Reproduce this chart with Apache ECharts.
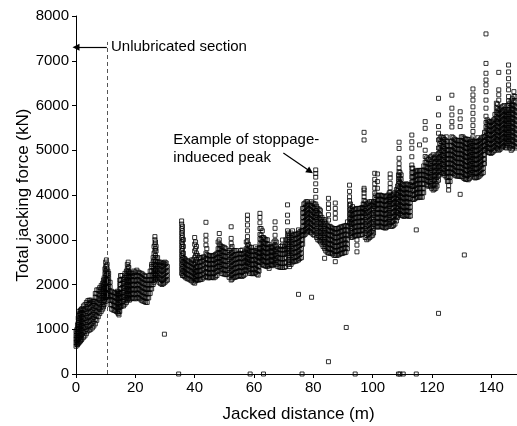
<!DOCTYPE html>
<html><head><meta charset="utf-8">
<script src="https://cdn.jsdelivr.net/npm/echarts@6/dist/echarts.min.js"></script>
<style>html,body{margin:0;padding:0;background:#fff}#c{width:517px;height:426px}</style>
</head><body><div id="c"></div><script>
// Each column: [distance (m), force values (kN) read at that distance...]
const segA = [
[0,620,700,780,860,950],[0.5,650,740,830,920,1010,1100],[1,700,800,900,1000,1100,1200,1300,1400],
[1.5,740,820,920,1020,1120,1220,1330,1420],[2,780,880,980,1080,1180,1280,1380,1460],
[3,850,950,1050,1150,1250,1350,1450,1550],[4,960,1060,1160,1260,1360,1460,1560,1640],
[5,1000,1100,1200,1300,1400,1500,1600,1650],[6,1070,1170,1270,1370,1470,1570,1620],
[7,1200,1300,1400,1500,1600,1700,1800,1880],[8,1350,1450,1550,1650,1750,1850,1930],
[9,1450,1550,1650,1750,1850,1950,2030],[9.5,1550,1650,1750,1850,1950,2050,2150],
[10,1700,1800,1900,2000,2100,2200,2300,2400,2500],[10.5,1750,1850,1950,2050,2150,2250,2350,2450],
[11,1650,1750,1850,1950,2050,2150,2250],[12,1450,1550,1650,1750,1850],[13,1420,1520,1620,1720,1820],
[14,1380,1480,1580,1680,1780,1850],[14.5,1320,1400,1500,1600,1700,1800],
[15,1500,1600,1700,1800,1900,2000,2100,2200],[16,1520,1620,1720,1820,1920,2020,2120],
[17,1600,1700,1800,1900,2000,2100,2200,2300],[17.6,1700,1800,1900,2000,2100,2200,2300,2400,2500],
[18,1650,1750,1850,1950,2050,2150,2250],[19,1700,1800,1900,2000,2100,2200,2250],
[20,1680,1780,1880,1980,2080,2180,2280],[21,1700,1800,1900,2000,2100,2200,2280],
[22,1650,1750,1850,1950,2050,2150,2250],[23,1620,1720,1820,1920,2020,2120,2200],
[24,1600,1700,1800,1900,2000,2100],[25,1800,1900,2000,2100,2200,2300],
[26,2000,2100,2200,2300,2400,2500,2600],[26.6,2100,2200,2300,2450,2600,2750,2900,3000,3070],
[27,2150,2250,2350,2450,2600,2750,2850],[28,2050,2150,2250,2350,2450,2500],
[29,2000,2100,2200,2300,2400,2480],[30,2050,2150,2250,2350,2450,2500],[30.8,2100,2200,2300,2400]
];
const segA2 = [
[0.25,660,740,820,900,990],[0.75,680,770,860,950,1050,1150,1250],[1.25,720,850,950,1050,1150,1250,1350],
[1.75,760,870,970,1070,1170,1270,1370,1440],[2.5,820,930,1030,1130,1230,1330,1430,1520],
[3.5,900,1000,1100,1200,1300,1400,1500,1600],[4.5,980,1080,1180,1280,1380,1480,1580,1650],
[5.5,1030,1130,1230,1330,1430,1530,1620],[6.5,1120,1220,1320,1420,1520,1620,1720,1800],
[7.5,1280,1380,1480,1580,1680,1780,1880],[8.5,1400,1500,1600,1700,1800,1900,1980],
[9.25,1500,1600,1700,1800,1900,2000,2100],[9.75,1620,1720,1820,1920,2020,2120,2250,2350],
[10.25,1720,1820,1920,2020,2120,2220,2320,2420,2550],[10.75,1700,1800,1900,2000,2100,2200,2300],
[11.5,1550,1650,1750,1850,1950,2050],[12.5,1430,1530,1630,1730,1830],[13.5,1400,1500,1600,1700,1800],
[14.25,1350,1450,1550,1650,1750,1830],[14.75,1400,1500,1600,1700,1800,1900,2000,2100],
[15.5,1520,1620,1720,1820,1920,2020,2120,2200],[16.5,1560,1660,1760,1860,1960,2060,2160,2250],
[17.3,1650,1750,1850,1950,2050,2150,2250,2350,2450],[17.8,1680,1780,1880,1980,2080,2180,2280,2380],
[18.5,1680,1780,1880,1980,2080,2180,2260],[19.5,1690,1790,1890,1990,2090,2190,2300],
[20.5,1700,1800,1900,2000,2100,2200,2320],[21.5,1680,1780,1880,1980,2080,2180,2260],
[22.5,1630,1730,1830,1930,2030,2130,2230],[23.5,1600,1700,1800,1900,2000,2100,2180],
[24.5,1700,1800,1900,2000,2100,2200],[25.5,1900,2000,2100,2200,2300,2400,2450],
[26.3,2050,2150,2250,2350,2450,2550,2700,2850],[26.8,2120,2220,2320,2420,2520,2650,2800,2950],
[27.5,2100,2200,2300,2400,2500,2600],[28.5,2020,2120,2220,2320,2420,2500],
[29.5,2020,2120,2220,2320,2420,2480],[30.4,2080,2180,2280,2380,2480]
];
const segB = [
[35.6,2250,2350,2450,2550,2650,2750,2850,2950,3050,3150,3250,3350,3420],[36.2,2200,2300,2400,2500,2600,2700,2850,3000],
[37,2150,2250,2350,2450,2550],[38,2120,2220,2320,2420,2520],[39,2080,2180,2280,2380,2480,2550],
[40,2030,2130,2230,2330,2450,2600,2750,2900,3050],[40.6,2100,2200,2300,2400,2550,2700,2850],
[41.5,2100,2200,2300,2400,2500,2600],[42.5,2120,2220,2320,2420,2520,2600],
[43.8,2180,2280,2380,2480,2580,2700,2880,2990,3100,3390],[44.5,2150,2250,2350,2450,2550,2650],
[45.5,2160,2260,2360,2460,2560,2640],[46.5,2150,2250,2350,2450,2550,2650],[47.5,2200,2300,2400,2500,2600,2700],
[48.3,2400,2500,2600,2700,2800,2900,3000,3140],[49,2250,2350,2450,2550,2650,2750,2850],
[50,2230,2330,2430,2530,2630,2730,2830],[51,2220,2320,2420,2520,2620,2720],
[52.3,2100,2200,2300,2400,2500,2600,2700,2800,2920,3030,3290],[53,2150,2250,2350,2450,2550,2650,2750],
[54,2170,2270,2370,2470,2570,2670,2760],[55,2200,2300,2400,2500,2600,2700],
[56,2180,2280,2380,2480,2580,2680,2770],[57,2230,2330,2430,2530,2630,2730],
[57.8,2470,2570,2670,2770,2870,2970,3070,3200,3330,3450,3550],[58.5,2250,2350,2450,2550,2650,2750,2840],
[59.5,2240,2340,2440,2540,2640,2740],[60.5,2260,2360,2460,2560,2660,2760,2840],[61.4,2210,2310,2410,2510,2610,2710],
[62,2620,2720,2820,2920,3020,3120,3250,3380,3500,3590],[62.8,2450,2550,2650,2750,2850,2950,3050,3200],
[63.6,2420,2520,2620,2720,2820,2920,3020],[64.5,2400,2500,2600,2700,2800,2900,3000],[65.1,2360],
[65.5,2450,2550,2650,2750,2850],[66.3,2420,2520,2620,2720,2820],
[67.1,2480,2580,2680,2780,2880,2980,3100,3255,3400],[68,2400,2500,2600,2700,2800],
[69,2380,2480,2580,2680,2780,2850],[69.6,2995],[70.2,2380,2480,2580,2680,2780,2850],
[71.3,2700,2800,2900,3000,3100,3200,3400,3550,3780],[72,2400,2500,2600,2700,2800,2900,3000,3100]
];
const segB2 = [
[35.9,2200,2300,2400,2500,2600,2700,2800,2900,3000,3100,3200,3300],[36.6,2180,2280,2380,2480,2580],
[37.5,2130,2230,2330,2430,2530],[38.5,2100,2200,2300,2400,2500],[39.5,2050,2150,2250,2350,2450,2550],
[40.3,2080,2180,2280,2380,2500,2650,2800,2950],[41,2100,2200,2300,2400,2500,2650],
[42,2110,2210,2310,2410,2510,2600],[43,2150,2250,2350,2450,2550,2620],
[44.1,2170,2270,2370,2470,2570,2670,2800],[45,2150,2250,2350,2450,2550,2650],
[46,2160,2260,2360,2460,2560,2640],[47,2170,2270,2370,2470,2570,2670],
[47.9,2300,2400,2500,2600,2700,2800,2950],[48.6,2300,2400,2500,2600,2700,2800,2880],
[49.5,2240,2340,2440,2540,2640,2740,2840],[50.5,2220,2320,2420,2520,2620,2720,2800],
[51.6,2160,2260,2360,2460,2560,2660,2760],[52.6,2120,2220,2320,2420,2520,2620,2720,2850],
[53.5,2160,2260,2360,2460,2560,2660,2760],[54.5,2180,2280,2380,2480,2580,2680],
[55.5,2190,2290,2390,2490,2590,2690,2760],[56.5,2200,2300,2400,2500,2600,2700],
[57.4,2300,2400,2500,2600,2700,2800,2950],[58.1,2300,2400,2500,2600,2700,2800,2900],
[59,2250,2350,2450,2550,2650,2750,2830],[60,2250,2350,2450,2550,2650,2750],
[61,2230,2330,2430,2530,2630,2730,2800],[61.7,2300,2400,2500,2600,2700,2800],
[62.4,2500,2600,2700,2800,2900,3000,3100,3250],[63.2,2430,2530,2630,2730,2830,2930,3050],
[64,2410,2510,2610,2710,2810,2910,3000],[65,2420,2520,2620,2720,2820,2900],
[65.9,2430,2530,2630,2730,2830],[66.7,2450,2550,2650,2750,2850,2950],
[67.5,2440,2540,2640,2740,2840,2950],[68.5,2390,2490,2590,2690,2790],
[69.6,2380,2480,2580,2680,2780,2880],[70.7,2400,2500,2600,2700,2800,2900,3000],
[71.6,2450,2550,2650,2750,2850,2950,3050,3150],[72.5,2450,2550,2650,2750,2850,2950,3050,3150]
];
const segC = [
[73,2500,2600,2700,2800,2900,3000,3100,3200],[74,2520,2620,2720,2820,2920,3020,3120],
[75,2550,2650,2750,2850,2950,3050,3150,3220],[76,2600,2700,2800,2900,3000,3100,3200],
[76.8,3100,3200,3300,3400,3500,3600,3700,3800],[77.6,3150,3250,3350,3450,3550,3650,3750,3850],
[78.5,3200,3300,3400,3500,3600,3700,3800],[79.4,3150,3250,3350,3450,3550,3650,3750,3850],
[80.3,3100,3200,3300,3400,3500,3600,3700,3800],[80.8,3500,3650,3800,3950,4100,4250,4400,4480,4560],
[81.5,3000,3100,3200,3300,3400,3500,3600,3700],[82.4,2950,3050,3150,3250,3350,3450,3550,3650],
[83.3,2850,2950,3050,3150,3250,3350,3450],[83.8,2585],[84.2,2750,2850,2950,3050,3150,3250,3350,3450],
[85.1,2700,2800,2900,3000,3100,3200,3300,3440,3560,3700,3800,3925],[86,2700,2800,2900,3000,3100,3200,3280],
[87,2650,2750,2850,2950,3050,3150,3250],[87.4,2510,3480,3590,3700,3820],
[88,2650,2750,2850,2950,3050,3150,3250],[89,2680,2780,2880,2980,3080,3180,3280],
[90,2700,2800,2900,3000,3100,3200,3300],[91,2720,2820,2920,3020,3120,3220,3320],
[92.2,3370,3470,3570,3670,3770,3870,3960,4080,4220],[92.8,3050,3150,3250,3350,3450,3550,3650],
[93.7,3080,3180,3280,3380,3480,3580,3680],[94.7,2730,2880,2995,3100,3200,3300,3400,3500,3600,3700],
[95.7,3100,3200,3300,3400,3500,3600,3700],[96.5,3120,3220,3320,3420,3520,3620,3720],
[97.1,3590,3690,3790,3880,3960,4040,4110,4150,5230,5400],[98,3000,3100,3200,3300,3400,3500,3600,3700,3800],
[99,3050,3150,3250,3350,3450,3550,3650,3750,3850],[100,3100,3200,3300,3400,3500,3600,3700,3800],
[100.7,3740,3840,3940,4040,4150,4250,4350,4485],[101.6,3280,3380,3480,3580,3680,3780,3880,3980,4150,4300,4470],
[102.5,3300,3400,3500,3600,3700,3800,3900,4000],[103.4,3280,3380,3480,3580,3680,3780,3880,3980],
[104.3,3260,3360,3460,3560,3660,3760,3860,3960],[105.2,3300,3400,3500,3600,3700,3800,3900,4000],
[105.9,3850,3960,4060,4160,4260,4380,4470],[106.6,3300,3400,3500,3600,3700,3800,3900,4000],
[107.5,3350,3450,3550,3650,3750,3850,3950,4050],[108.4,3500,3600,3700,3800,3900,4000,4100,4200],
[108.9,4300,4420,4520,4600,4700,4820,5040,5180],[109.6,3550,3650,3750,3850,3950,4050,4150,4250,4350,4450],
[110.5,3520,3620,3720,3820,3920,4020,4120,4220]
];
const segC2 = [
[73.5,2510,2610,2710,2810,2910,3010,3110],[74.5,2530,2630,2730,2830,2930,3030,3130],
[75.5,2580,2680,2780,2880,2980,3080,3180],[76.4,2900,3000,3100,3200,3300,3400,3500,3600,3700],
[77.2,3120,3220,3320,3420,3520,3620,3720,3820],[78,3180,3280,3380,3480,3580,3680,3780,3850],
[79,3170,3270,3370,3470,3570,3670,3770],[79.9,3120,3220,3320,3420,3520,3620,3720,3820],
[81.1,3050,3150,3250,3350,3450,3550,3650,3750],[82,2980,3080,3180,3280,3380,3480,3580,3680],
[82.9,2900,3000,3100,3200,3300,3400,3500],[83.8,2800,2900,3000,3100,3200,3300,3400],
[84.7,2720,2820,2920,3020,3120,3220,3320],[85.6,2700,2800,2900,3000,3100,3200,3300],
[86.5,2680,2780,2880,2980,3080,3180,3260],[87.5,2650,2750,2850,2950,3050,3150,3250],
[88.5,2660,2760,2860,2960,3060,3160,3260],[89.5,2690,2790,2890,2990,3090,3190,3290],
[90.5,2710,2810,2910,3010,3110,3210,3310],[91.5,2800,2900,3000,3100,3200,3300,3400],
[92.5,3100,3200,3300,3400,3500,3600,3700,3800],[93.2,3060,3160,3260,3360,3460,3560,3660,3740],
[94.2,3090,3190,3290,3390,3490,3590,3690],[95.2,3100,3200,3300,3400,3500,3600,3700],
[96.1,3110,3210,3310,3410,3510,3610,3710],[96.8,3200,3300,3400,3500,3600,3700,3800],
[97.5,3050,3150,3250,3350,3450,3550,3650,3750,3850],[98.5,3020,3120,3220,3320,3420,3520,3620,3720,3820],
[99.5,3080,3180,3280,3380,3480,3580,3680,3780,3850],[100.3,3150,3250,3350,3450,3550,3650,3750,3850],
[101.1,3300,3400,3500,3600,3700,3800,3900,4000],[102,3290,3390,3490,3590,3690,3790,3890,3990],
[102.9,3290,3390,3490,3590,3690,3790,3890,3990],[103.8,3270,3370,3470,3570,3670,3770,3870,3970],
[104.7,3280,3380,3480,3580,3680,3780,3880,3980],[105.6,3350,3450,3550,3650,3750,3850,3950,4050],
[106.2,3300,3400,3500,3600,3700,3800,3900,4000],[107,3320,3420,3520,3620,3720,3820,3920,4020],
[108,3420,3520,3620,3720,3820,3920,4020,4120],[108.7,3550,3650,3750,3850,3950,4050,4150,4250,4350,4450],
[109.2,3580,3680,3780,3880,3980,4080,4180,4280,4380,4500],[110,3540,3640,3740,3840,3940,4040,4140,4240],
[110.9,3530,3630,3730,3830,3930,4030,4130,4230]
];
const segD = [
[111.3,3550,3650,3750,3850,3950,4050,4150,4250],[112.2,3520,3620,3720,3820,3920,4020,4120,4220],
[113.2,4190,4290,4400,4500,4600,4670,4855,5045,5190,5340],[113.9,3900,4000,4100,4200,4300,4400,4500],
[114.7,3220,3950,4050,4150,4250,4350,4450,4550],[115.8,3950,4050,4150,4250,4350,4450,4550,5120],
[116.7,3950,4050,4150,4250,4350,4450,4550],[117.7,4330,4430,4530,4630,4730,4860,5000,5230,5490,5640],
[118.6,4200,4300,4400,4500,4600,4700,4800],[119.5,4200,4300,4400,4500,4600,4700,4850],
[120.4,4110,4210,4310,4410,4510,4610,4710,4810,4900],[121.3,4150,4250,4350,4450,4550,4650,4750,4850],
[122.2,1355,4330,4430,4530,4630,4730,4830,4930,5050,5230,5380,5530,5790,6160],
[123,4500,4600,4700,4800,4900,5000,5100,5200,5300],[123.9,4480,4580,4680,4780,4880,4980,5080,5180,5280],
[124.8,4400,4500,4600,4700,4800,4900,5000,5100,5200,5300],[125.6,4110,4210,4310,4410,4510,4610,4710,4810,4910,5010],
[126.7,4500,4600,4700,4800,4900,5000,5100,5200,5300,5520,5640,5790,5940,6230],
[127.6,4450,4550,4650,4750,4850,4950,5050,5150,5250],[128.5,4420,4520,4620,4720,4820,4920,5020,5120,5220],
[129.5,4015,4420,4520,4620,4720,4820,4920,5020,5120,5220,5530,5700,5860],
[130.4,4400,4500,4600,4700,4800,4900,5000,5100,5200,5300],[130.9,2660],
[131.3,4350,4450,4550,4650,4750,4850,4950,5050,5150,5250],[132.2,4340,4440,4540,4640,4740,4840,4940,5040,5140,5240],
[133,4400,4500,4600,4700,4800,4900,5000,5100,5200],
[133.8,4500,4600,4700,4800,4900,5000,5100,5200,5300,5420,5550,5680,5825,5970,6120,6235,6370],
[134.6,4380,4480,4580,4680,4780,4880,4980,5080,5180],[135.5,4400,4500,4600,4700,4800,4900,5000,5100,5200,5280],
[136.4,4450,4550,4650,4750,4850,4950,5050,5150,5250],[137.3,4500,4600,4700,4800,4900,5000,5100,5200,5300],
[138.2,5030,5130,5230,5330,5430,5520,5620,5760,5940,6120,6310,6460,6570,6720,6940,7600],
[139,4950,5050,5150,5250,5350,5450,5550,5650],[139.9,4930,5030,5130,5230,5330,5430,5530,5630],
[140.8,4980,5080,5180,5280,5380,5480,5580,5680],[141.7,5050,5150,5250,5350,5450,5550,5650,5750,5850,5950,6050],
[142.5,5000,5100,5200,5300,5400,5500,5600,5700,5800,5900,6120,6240,6350,6740],
[143.4,5050,5150,5250,5350,5450,5550,5650,5750,5850,5950],[144.3,5100,5200,5300,5400,5500,5600,5700,5800,5900,6000],
[145.1,5050,5150,5250,5350,5450,5550,5650,5750,5850],
[145.8,5200,5300,5400,5500,5600,5700,5800,5900,6000,6100,6200,6350,6460,6600,6750,6905],
[146.7,5000,5100,5200,5300,5400,5500,5600,5700,5800,5900,6000,6100],
[147.6,5100,5200,5300,5400,5500,5600,5700,5800,5900,6000,6100,6200,6310],
[148.5,5050,5150,5250,5350,5450,5550,5650,5750,5850,5950]
];
const segD2 = [
[111.7,3540,3640,3740,3840,3940,4040,4140,4240],[112.7,3530,3630,3730,3830,3930,4030,4130,4230],
[113.5,3900,4000,4100,4200,4300,4400,4500,4600],[114.3,3920,4020,4120,4220,4320,4420,4520],
[115.2,3940,4040,4140,4240,4340,4440,4540],[116.2,3950,4050,4150,4250,4350,4450,4550],
[117.2,4050,4150,4250,4350,4450,4550,4650],[118.2,4230,4330,4430,4530,4630,4730,4830],
[119,4200,4300,4400,4500,4600,4700,4800],[119.9,4150,4250,4350,4450,4550,4650,4750,4870],
[120.8,4130,4230,4330,4430,4530,4630,4730,4830],[121.7,4200,4300,4400,4500,4600,4700,4800,4900],
[122.6,4450,4550,4650,4750,4850,4950,5050,5150,5250],[123.4,4490,4590,4690,4790,4890,4990,5090,5190,5290],
[124.3,4440,4540,4640,4740,4840,4940,5040,5140,5240],[125.2,4300,4400,4500,4600,4700,4800,4900,5000,5100,5200],
[126.1,4300,4400,4500,4600,4700,4800,4900,5000,5100,5200],[127.1,4480,4580,4680,4780,4880,4980,5080,5180,5280],
[128,4430,4530,4630,4730,4830,4930,5030,5130,5230],[129,4420,4520,4620,4720,4820,4920,5020,5120,5220],
[129.9,4410,4510,4610,4710,4810,4910,5010,5110,5210,5300],[130.8,4370,4470,4570,4670,4770,4870,4970,5070,5170,5270],
[131.7,4350,4450,4550,4650,4750,4850,4950,5050,5150,5250],[132.6,4370,4470,4570,4670,4770,4870,4970,5070,5170],
[133.4,4450,4550,4650,4750,4850,4950,5050,5150,5250],[134.2,4400,4500,4600,4700,4800,4900,5000,5100,5200],
[135,4390,4490,4590,4690,4790,4890,4990,5090,5190],[135.9,4420,4520,4620,4720,4820,4920,5020,5120,5220],
[136.8,4480,4580,4680,4780,4880,4980,5080,5180,5280],[137.7,4700,4800,4900,5000,5100,5200,5300,5400],
[138.6,4980,5080,5180,5280,5380,5480,5580,5680],[139.4,4940,5040,5140,5240,5340,5440,5540,5640],
[140.3,4950,5050,5150,5250,5350,5450,5550,5650],[141.2,5000,5100,5200,5300,5400,5500,5600,5700,5800],
[142.1,5030,5130,5230,5330,5430,5530,5630,5730,5830,5930,6030],[142.9,5020,5120,5220,5320,5420,5520,5620,5720,5820,5920],
[143.8,5080,5180,5280,5380,5480,5580,5680,5780,5880,5980],[144.7,5070,5170,5270,5370,5470,5570,5670,5770,5870],
[145.4,5100,5200,5300,5400,5500,5600,5700,5800,5900,6000],[146.2,5050,5150,5250,5350,5450,5550,5650,5750,5850,5950,6050],
[147.1,5030,5130,5230,5330,5430,5530,5630,5730,5830,5930,6030,6150],[148,5080,5180,5280,5380,5480,5580,5680,5780,5880,5980,6080,6200]
];
// isolated points [distance, force]
const outliers = [[29.8,890],[34.6,0],[58.7,0],[63.2,0],[76.2,0],[75,1780],[79.4,1715],[85.1,275],
[91.1,1040],[94.1,0],[108.7,0],[109.2,0],[110.3,0],[114.7,0]];

const unlubricatedEnd = 10.4;

function columnsToPoints(cols){const out=[];cols.forEach(c=>{for(let i=1;i<c.length;i++)out.push([c[0],c[i]]);});return out;}
const points = [].concat(
  columnsToPoints(segA),columnsToPoints(segA2),columnsToPoints(segB),columnsToPoints(segB2),
  columnsToPoints(segC),columnsToPoints(segC2),columnsToPoints(segD),columnsToPoints(segD2),outliers);

const FONT = '"Liberation Sans", Arial, sans-serif';
const chart = echarts.init(document.getElementById('c'), null, {renderer:'canvas'});
const solid = {type:'solid', color:'#000', width:1.2};
chart.setOption({
  animation:false,
  grid:{left:76,right:-4,top:16,bottom:52,containLabel:false,outerBoundsMode:'none'},
  xAxis:{type:'value',min:0,max:150,interval:20,
    name:'Jacked distance (m)',nameLocation:'middle',nameGap:32,nameMoveOverlap:false,
    nameTextStyle:{fontSize:17,color:'#000',fontFamily:FONT},
    axisLine:{lineStyle:{color:'#000',width:1}},
    axisTick:{inside:false,length:4,lineStyle:{color:'#000'}},
    axisLabel:{fontSize:15,color:'#000',fontFamily:FONT,margin:6,showMaxLabel:false,formatter:v=>String(v)},
    splitLine:{show:false}},
  yAxis:{type:'value',min:0,max:8000,interval:1000,
    name:'Total jacking force (kN)',nameLocation:'middle',nameGap:44,nameMoveOverlap:false,
    nameTextStyle:{fontSize:17,color:'#000',fontFamily:FONT},
    axisLine:{show:true,lineStyle:{color:'#000',width:1}},
    axisTick:{show:true,inside:false,length:4,lineStyle:{color:'#000'}},
    axisLabel:{fontSize:15,color:'#000',fontFamily:FONT,margin:7,formatter:v=>String(v)},
    splitLine:{show:false}},
  series:[{
    type:'scatter',data:points,symbol:'rect',symbolSize:4,large:false,progressive:0,silent:true,
    itemStyle:{color:'rgba(0,0,0,0)',borderColor:'#000',borderWidth:1},
    markLine:{silent:true,animation:false,label:{show:false},emphasis:{disabled:true},
      data:[
        [{coord:[unlubricatedEnd,0],symbol:'none',lineStyle:{type:[4,3],color:'#555',width:1}},{coord:[unlubricatedEnd,7420],symbol:'none'}],
        [{coord:[unlubricatedEnd,7300],symbol:'none',lineStyle:solid},{coord:[0,7300],symbol:'triangle',symbolSize:7}],
        [{coord:[69.9,4940],symbol:'none',lineStyle:solid},{coord:[78.9,4530],symbol:'triangle',symbolSize:7}]
      ]}
  }]
});
const a = chart.convertToPixel({gridIndex:0},[11.8,7300]);
const b = chart.convertToPixel({gridIndex:0},[32.8,5441]);
chart.setOption({graphic:[
  {type:'text',x:a[0],y:a[1],silent:true,style:{text:'Unlubricated section',font:'15px '+FONT,fill:'#000',align:'left',verticalAlign:'middle'}},
  {type:'text',x:b[0],y:b[1],silent:true,style:{text:'Example of stoppage-\nindueced peak',font:'15px '+FONT,fill:'#000',align:'left',verticalAlign:'top',lineHeight:18}}
]});
</script></body></html>
